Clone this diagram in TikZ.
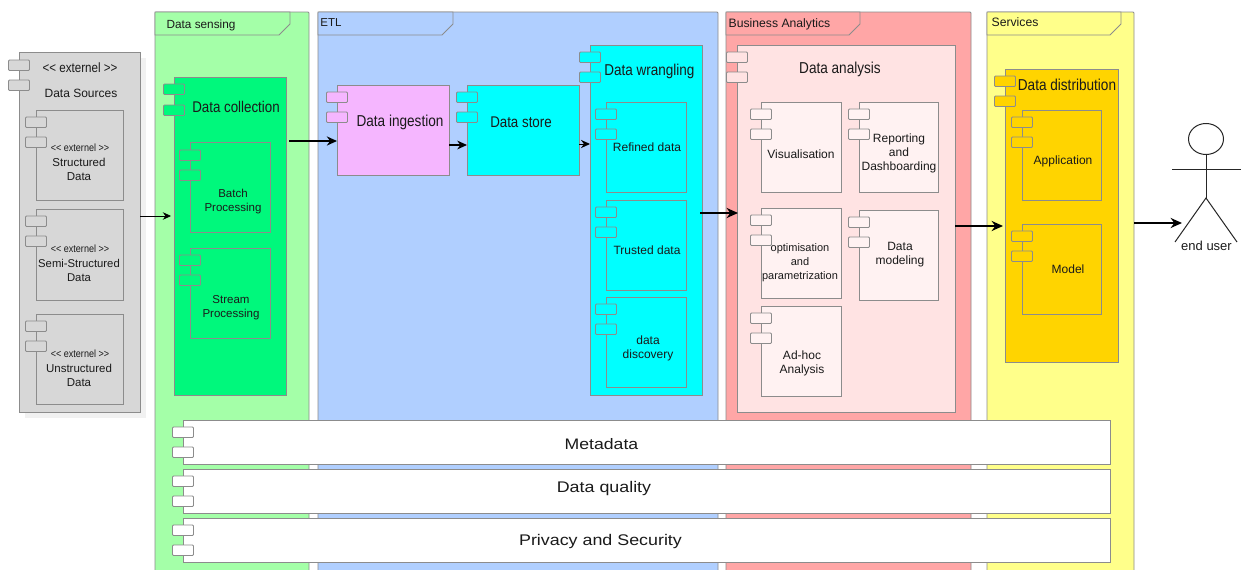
\documentclass[tikz,border=0pt]{standalone}
\usepackage{fontspec}
\setmainfont{Liberation Sans}
\newfontfamily\condfont[FakeStretch=0.86]{Liberation Sans}
\newfontfamily\widefont[FakeStretch=1.16]{Liberation Sans}
\usetikzlibrary{arrows.meta,shapes.geometric}
\definecolor{edgegray}{HTML}{8C8C8C}
\definecolor{txt}{HTML}{1A1A1A}
\definecolor{srcgray}{HTML}{D7D7D7}
\definecolor{srcshadow}{HTML}{F1F1F1}
\definecolor{sensgreen}{HTML}{A4FFA8}
\definecolor{collgreen}{HTML}{00F87C}
\definecolor{etlblue}{HTML}{B0CFFF}
\definecolor{ingest}{HTML}{F5B6FF}
\definecolor{cyanfill}{HTML}{00FFFF}
\definecolor{bared}{HTML}{FFA6A6}
\definecolor{anapink}{HTML}{FFE3E3}
\definecolor{anainner}{HTML}{FFF2F2}
\definecolor{servyellow}{HTML}{FFFF8A}
\definecolor{distgold}{HTML}{FFD400}
\tikzset{
  box/.style={draw=edgegray,line width=0.9pt,inner sep=0,outer sep=0,rectangle},
  tabbox/.style={box,rounded corners=1pt,minimum width=21pt,minimum height=10.5pt},
  lab/.style={inner sep=0,outer sep=0,align=center,text=txt},
  flow/.style={draw=black,line width=#1,-{Stealth[length=4*#1+5pt,width=3.2*#1+5pt]}},
  flow/.default=1pt,
  actorline/.style={draw=black!85,line width=1pt},
}
% \comp{name}{x1}{y1}{x2}{y2}{fill}{tab fill}{first tab top}{second tab top}
\newcommand{\comp}[9]{%
  \node[box,fill=#6,minimum width={(#4-#2)*1pt},minimum height={(#5-#3)*1pt}] (#1) at ({(#2+#4)/2},{(#3+#5)/2}) {};
  \node[tabbox,fill=#7] (#1-t1) at (#2,{#8+5.25}) {};
  \node[tabbox,fill=#7] (#1-t2) at (#2,{#9+5.25}) {};
}
% \pack{name}{x1}{x2}{header x}{fill}{header fill}
\newcommand{\pack}[6]{%
  \node[box,fill=#5,rounded corners=1pt,minimum width={(#3-#2)*1pt},minimum height=570pt] (#1) at ({(#2+#3)/2},297) {};
  \draw[edgegray,line width=0.9pt,fill=#6] (#2,12) -- (#4,12) -- (#4,24) -- ({#4-11},35) -- (#2,35) -- cycle;
}
% \lab{name}{x}{y}{size}{text}
\newcommand{\lab}[5]{\node[lab,font=\fontsize{#4}{14}\selectfont] (#1) at (#2,#3) {#5};}
\begin{document}
\begin{tikzpicture}[x=1pt,y=-1pt]
\clip (0,0) rectangle (1243,570);
\fill[white] (0,0) rectangle (1243,570);
% packages
\pack{sens}{155}{309}{290}{sensgreen}{sensgreen}
\pack{etl}{318}{718}{453}{etlblue}{etlblue}
\pack{ba}{726}{971}{860}{bared}{bared}
\pack{serv}{987}{1134}{1121}{servyellow}{servyellow}
\lab{senst}{201}{25}{11.8}{Data sensing}
\lab{etlt}{331}{23}{11.5}{ETL}
\lab{bat}{779.5}{24}{12.2}{Business Analytics}
\lab{servt}{1015}{22}{12.2}{Services}
% data sources
\fill[srcshadow] (25,58) rectangle (146,418);
\comp{ds}{19}{52}{140}{412}{srcgray}{srcgray}{60}{80}
\lab{dse}{80}{68}{13.5}{\condfont << externel >>}
\lab{dsn}{81}{93.5}{12}{Data Sources}
\comp{sd}{36}{110}{123}{200}{srcgray}{srcgray}{117}{137}
\lab{sde}{80}{148}{10.5}{\condfont << externel >>}
\lab{sdn}{79}{169.5}{11.5}{Structured\\Data}
\comp{ssd}{36}{209}{123}{300}{srcgray}{srcgray}{216}{236}
\lab{ssde}{80}{249}{10.5}{\condfont << externel >>}
\lab{ssdn}{79}{270.5}{11.3}{Semi-Structured\\Data}
\comp{ud}{36}{314}{123}{404}{srcgray}{srcgray}{321}{341}
\lab{ude}{80}{354}{10.5}{\condfont << externel >>}
\lab{udn}{79}{375.5}{11.5}{Unstructured\\Data}
% data collection
\comp{dc}{174}{77}{286}{395}{collgreen}{collgreen}{84}{105}
\lab{dct}{236}{107}{15.5}{\condfont Data collection}
\comp{bp}{190}{142}{270}{232}{collgreen}{collgreen}{150}{170}
\lab{bpt}{233}{202}{11.5}{Batch\\Processing}
\comp{sp}{190}{248}{270}{338}{collgreen}{collgreen}{255}{275}
\lab{spt}{231}{308}{11.5}{Stream\\Processing}
% ETL
\comp{di}{337}{85}{449}{175}{ingest}{ingest}{92}{112}
\lab{dit}{400}{122.5}{15.8}{\condfont Data ingestion}
\comp{dst}{467}{85}{579}{175}{cyanfill}{cyanfill}{92}{112}
\lab{dstt}{521}{122.5}{15.5}{\condfont Data store}
\comp{dw}{590}{45}{702}{395}{cyanfill}{cyanfill}{52}{72}
\lab{dwt}{649.5}{71}{15.7}{\condfont Data wrangling}
\comp{rd}{606}{102}{686}{192}{cyanfill}{cyanfill}{109}{129}
\lab{rdt}{647}{147.5}{12}{Refined data}
\comp{td}{606}{200}{686}{290}{cyanfill}{cyanfill}{207}{227}
\lab{tdt}{647}{250.5}{12}{Trusted data}
\comp{dd}{606}{297}{686}{387}{cyanfill}{cyanfill}{304}{324}
\lab{ddt}{648}{348}{12}{data\\discovery}
% analytics
\comp{da}{737}{45}{955}{412}{anapink}{anapink}{52}{72}
\lab{dat}{840}{69}{15.8}{\condfont Data analysis}
\comp{vi}{761}{102}{841}{192}{anainner}{anainner}{109}{129}
\lab{vit}{801}{154.5}{12}{Visualisation}
\comp{rp}{859}{102}{938}{192}{anainner}{anainner}{109}{129}
\lab{rpt}{899}{153.5}{12}{Reporting\\and\\Dashboarding}
\comp{op}{761}{208}{841}{298}{anainner}{anainner}{215}{235}
\lab{opt}{800}{262.5}{11}{optimisation\\and\\parametrization}
\comp{dm}{859}{210}{938}{300}{anainner}{anainner}{217}{237}
\lab{dmt}{900}{255}{12}{Data\\modeling}
\comp{ah}{761}{306}{841}{396}{anainner}{anainner}{313}{333}
\lab{aht}{802}{363}{12}{Ad-hoc\\Analysis}
% services
\comp{dsb}{1005}{69}{1118}{362}{distgold}{distgold}{76}{96}
\lab{dsbt}{1067}{85}{15.8}{\condfont Data distribution}
\comp{ap}{1022}{110}{1101}{200}{distgold}{distgold}{117}{137}
\lab{apt}{1063}{161}{12}{Application}
\comp{mo}{1022}{224}{1101}{314}{distgold}{distgold}{231}{251}
\lab{mot}{1068}{269}{12}{Model}
% bars
\comp{meta}{183}{420}{1110}{464}{white}{white}{427}{447}
\lab{metat}{601.5}{444.5}{15.2}{\widefont Metadata}
\comp{qual}{183}{469}{1110}{513}{white}{white}{476}{496}
\lab{qualt}{604}{489}{15.4}{\widefont Data quality}
\comp{priv}{183}{518}{1110}{562}{white}{white}{525}{545}
\lab{privt}{600.5}{541.5}{15.4}{\widefont Privacy and Security}
% actor
\node[draw=black!85,line width=1pt,ellipse,minimum width=35pt,minimum height=31pt,inner sep=0] (head) at (1206,139) {};
\coordinate (hip) at (1206,198);
\coordinate (armL) at (1172,169);
\coordinate (armR) at (1241,169);
\coordinate (footL) at (1175,242);
\coordinate (footR) at (1237,242);
\draw[actorline] (head.south) -- (hip);
\draw[actorline] (armL) -- (armR);
\draw[actorline] (footL) -- (hip) -- (footR);
\lab{user}{1206.5}{246}{13}{end user}
% connectors
\draw[flow=0.8pt] ([yshift=16pt]ds.east) -- ([xshift=-3pt,yshift=20pt]dc.west);
\draw[flow=1.3pt] ([xshift=3pt,yshift=95pt]dc.east) -- ([yshift=-11pt]di.west);
\draw[flow=1.2pt] ([yshift=-15pt]di.east) -- ([yshift=-15pt]dst.west);
\draw[flow=1pt] ([yshift=-14pt]dst.east) -- ([yshift=76pt]dw.west);
\draw[flow=1.6pt] ([xshift=-2pt,yshift=7pt]dw.east) -- ([xshift=1pt,yshift=15.5pt]da.west);
\draw[flow=1.6pt] ([yshift=2.5pt]da.east) -- ([xshift=-2pt,yshift=-10.5pt]dsb.west);
\draw[flow=1.6pt] ([yshift=74pt]serv.east) -- ([xshift=-6pt,yshift=-25pt]head.west |- hip);
\end{tikzpicture}
\end{document}
